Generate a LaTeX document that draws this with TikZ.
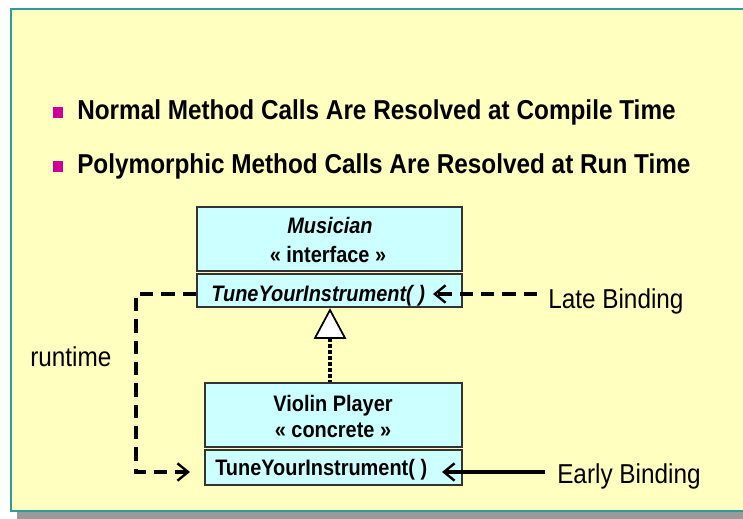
\documentclass[tikz,border=0pt]{standalone}
\usepackage{fontspec}
\setmainfont{Liberation Sans}[FakeStretch=0.89]
\usetikzlibrary{arrows.meta}
\definecolor{slidebg}{HTML}{FFFFBF}
\definecolor{boxfill}{HTML}{CCFFFF}
\definecolor{bulletc}{HTML}{CC0099}
\definecolor{framec}{HTML}{2F9B9B}
\definecolor{shadowc}{HTML}{9A9A9A}
\tikzset{
  umlbox/.style={draw=black!80, fill=boxfill, line width=1.3pt, rectangle, inner sep=0pt},
  bigtxt/.style={font=\fontsize{20.5pt}{23pt}\selectfont\bfseries, inner sep=0pt, anchor=base west},
  lbltxt/.style={font=\fontsize{20.5pt}{23pt}\selectfont, inner sep=0pt, anchor=base west},
  boxtxt/.style={font=\fontsize{16.8pt}{19pt}\selectfont\bfseries, inner sep=0pt, anchor=base},
  bulletsq/.style={fill=bulletc, rectangle, inner sep=0pt, minimum width=7.5pt, minimum height=8.2pt},
  conn/.style={line width=2.6pt, line cap=butt},
  dashconn/.style={conn, dash pattern=on 10pt off 6pt},
  opentip/.style={-{Straight Barb[length=8pt,width=13pt,line width=1.8pt]}},
}
\begin{document}
\begin{tikzpicture}[x=0.75pt,y=-0.75pt]
\useasboundingbox (0,0) rectangle (743,518);
% frame
\fill[shadowc] (17,511) rectangle (760,520);
\fill[slidebg] (11,9) rectangle (760,511);
\draw[framec, line width=2.2pt] (11,9) rectangle (760,511);
% bullets
\node[bulletsq] (b1) at (58,112.5) {};
\node[bigtxt] (t1) at (77,119) {Normal Method Calls Are Resolved at Compile Time};
\node[bulletsq] (b2) at (58,166.5) {};
\node[bigtxt] (t2) at (77,173) {Polymorphic Method Calls Are Resolved at Run Time};
% Musician
\node[umlbox, minimum width=198.75pt, minimum height=48pt] (mus) at (329.5,239) {};
\node[umlbox, minimum width=198.75pt, minimum height=24.75pt] (musm) at (329.5,290.5) {};
\node[boxtxt, font=\fontsize{16.8pt}{19pt}\selectfont\bfseries\itshape] (musn) at (330,233) {Musician};
\node[boxtxt] (musst) at (328,262) {« interface »};
\node[boxtxt, anchor=base west, font=\fontsize{16.8pt}{19pt}\selectfont\bfseries\itshape] (musmt) at (211,301) {TuneYourInstrument( )};
% Violin
\node[umlbox, minimum width=192.75pt, minimum height=48pt] (vio) at (333.5,415) {};
\node[umlbox, minimum width=192.75pt, minimum height=26.25pt] (viom) at (333.5,467.5) {};
\node[boxtxt] (vion) at (333,411) {Violin Player};
\node[boxtxt] (viost) at (333,437) {« concrete »};
\node[boxtxt, anchor=base west] (viomt) at (215,475) {TuneYourInstrument( )};
% generalization
\coordinate (triapex) at (330,310);
\coordinate (tribase) at (330,338);
\draw[line width=1.3pt, fill=white] (triapex) -- (345,338) -- (315,338) -- cycle;
\draw[line width=2.5pt, dash pattern=on 3pt off 1.5pt] (tribase) -- (vio.north -| tribase);
% late binding
\node[lbltxt] (late) at (548,308) {Late Binding};
\coordinate (lateS) at (537,294);
\coordinate (lateT) at (433,294);
\draw[dashconn, opentip] (lateS) -- (lateT);
% early binding
\node[lbltxt] (early) at (557,483) {Early Binding};
\coordinate (earlyS) at (545,472);
\coordinate (earlyT) at (442,472);
\draw[conn, opentip] (earlyS) -- (earlyT);
% runtime
\node[lbltxt] (rt) at (30,366) {runtime};
\coordinate (rtS) at (musm.west |- 0,294);
\coordinate (rtA) at (136,294);
\coordinate (rtB) at (136,472);
\coordinate (rtT) at (190,472);
\draw[dashconn, opentip] (rtS) -- (rtA) -- (rtB) -- (rtT);
\end{tikzpicture}
\end{document}
